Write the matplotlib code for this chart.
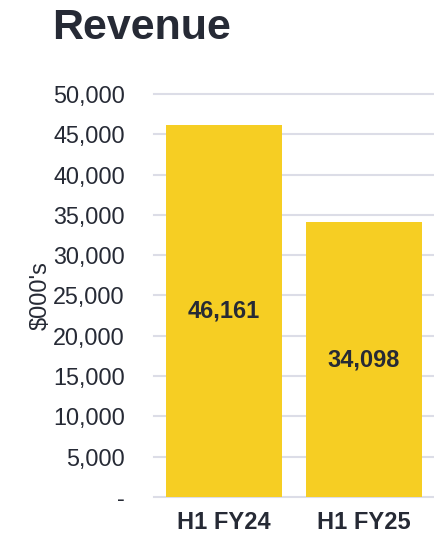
import matplotlib
matplotlib.use("Agg")
import matplotlib.pyplot as plt
from matplotlib.ticker import FuncFormatter

periods = ["H1 FY24", "H1 FY25"]
revenue = [46161, 34098]
yticks = [0, 5000, 10000, 15000, 20000, 25000, 30000, 35000, 40000, 45000, 50000]

plt.rcParams['font.family'] = ['Liberation Sans', 'DejaVu Sans']
text_color = "#262a35"
bar_color = "#f6ce23"
grid_color = "#dcdde7"

fig = plt.figure(figsize=(4.34, 5.36), dpi=100)
ax = fig.add_axes([0.355, 0.0728, 0.645, 0.7518])

bars = ax.bar(range(len(periods)), revenue, width=0.835, color=bar_color, zorder=2)
for rect, val in zip(bars, revenue):
    ax.text(rect.get_x() + rect.get_width() / 2, val / 2, f"{val:,}",
            ha="center", va="center", fontsize=17, fontweight="bold", color=text_color)

ax.set_xlim(-0.5, 1.5)
ax.set_ylim(0, 50000)
ax.set_yticks(yticks)
ax.yaxis.set_major_formatter(FuncFormatter(lambda v, p: "-" if v == 0 else f"{v:,.0f}"))
ax.set_xticks(range(len(periods)))
ax.set_xticklabels(periods, fontweight="bold", fontsize=17)

ax.tick_params(axis="y", length=0, pad=21, labelsize=16.8, labelcolor=text_color)
ax.tick_params(axis="x", length=0, pad=10, labelcolor=text_color)
ax.grid(axis="y", color=grid_color, linewidth=1.5, zorder=0)
ax.set_axisbelow(True)
for s in ax.spines.values():
    s.set_visible(False)
for line in ax.get_ygridlines():
    line.set_clip_on(False)

ax.set_ylabel("$000's", fontsize=17, color=text_color, labelpad=1)
fig.text(0.12, 0.948, "Revenue", fontsize=31, fontweight="bold", color=text_color,
         ha="left", va="center")

fig.savefig("out.png", dpi=100)
